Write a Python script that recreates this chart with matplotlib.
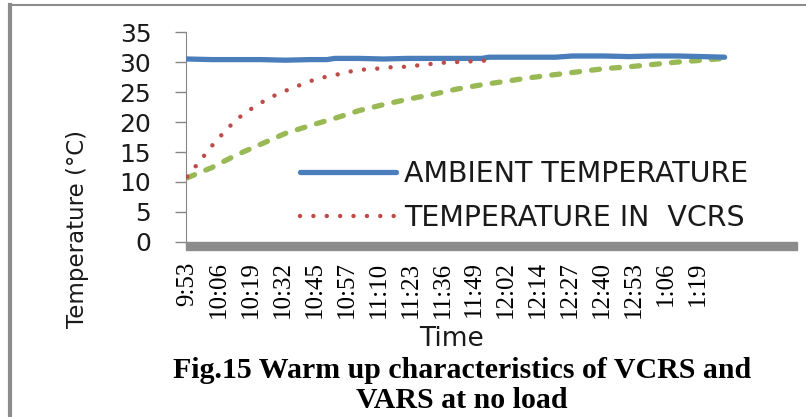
import matplotlib
matplotlib.use('Agg')
import matplotlib.pyplot as plt
from matplotlib.lines import Line2D
from matplotlib.patches import Rectangle

# time labels shown on the category axis (every 13th reading)
tick_labels = ['9:53', '10:06', '10:19', '10:32', '10:45', '10:57', '11:10', '11:23',
               '11:36', '11:49', '12:02', '12:14', '12:27', '12:40', '12:53', '1:06', '1:19']
tick_pos = [0, 13, 26, 39, 52, 65, 78, 91, 104, 117, 130, 143, 156, 169, 182, 195, 208]
n_cat = 249

# ambient temperature (reading index, degC)
amb_idx = [0, 10, 20, 30, 40, 50, 57, 60, 70, 80, 90, 100, 110, 120, 123, 130, 140,
           150, 157, 160, 170, 180, 190, 200, 210, 219]
amb_val = [30.5, 30.4, 30.4, 30.4, 30.3, 30.4, 30.4, 30.6, 30.6, 30.5, 30.6, 30.6, 30.6,
           30.6, 30.8, 30.8, 30.8, 30.8, 31.0, 31.0, 31.0, 30.9, 31.0, 31.0, 30.9, 30.8]

# temperature in VCRS
vcrs_idx = [0, 5, 10, 15, 20, 25, 30, 35, 40, 45, 50, 55, 60, 65, 70, 75, 80, 85, 90,
            95, 100, 105, 110, 115, 120, 124]
vcrs_val = [10.9, 13.4, 16.0, 18.3, 20.4, 21.9, 23.2, 24.3, 25.2, 26.0, 26.8, 27.4, 27.8,
            28.3, 28.7, 28.8, 29.0, 29.2, 29.2, 29.5, 29.7, 29.9, 30.0, 30.1, 30.2, 30.3]

# temperature in VARS
vars_idx = [0, 10, 20, 30, 40, 50, 60, 70, 80, 90, 100, 110, 120, 130, 140, 150, 160,
            170, 180, 190, 200, 210, 219]
vars_val = [10.7, 12.4, 14.5, 16.3, 18.1, 19.4, 20.6, 21.9, 22.9, 23.8, 24.6, 25.5, 26.2,
            26.8, 27.4, 27.9, 28.4, 28.9, 29.2, 29.6, 30.0, 30.3, 30.6]

W, H = 806, 417
fig = plt.figure(figsize=(W / 100, H / 100), dpi=100)
ax = fig.add_axes([186 / W, 1 - 242 / H, 611 / W, 210 / H])

sans = 'DejaVu Sans'
serif = 'Liberation Serif'

l1, = ax.plot(amb_idx, amb_val, color='#4A7EBB', lw=3.8, solid_capstyle='round',
              label='AMBIENT TEMPERATURE', zorder=3)
l2, = ax.plot(vcrs_idx, vcrs_val, color='#BE4B48', lw=3.2, linestyle=(0, (0.01, 3.0)),
              dash_capstyle='round', label='TEMPERATURE IN  VCRS', zorder=4)
l3, = ax.plot(vars_idx, vars_val, color='#98B954', lw=3.8, linestyle=(0, (1.5, 2.3)),
              dash_capstyle='round', label='TEMPERATURE IN VARS', zorder=2)

ax.set_xlim(-0.5, n_cat - 0.5)
ax.set_ylim(0, 35)
ax.set_yticks(range(0, 36, 5))
ax.set_xticks(tick_pos)
ax.set_xticklabels(tick_labels, rotation=90, family=serif, fontsize=18, va='top')
ax.tick_params(axis='x', length=0, pad=14)
ax.tick_params(axis='y', length=8, width=1, color='#868686', pad=17, labelsize=18,
               labelcolor='#1a1a1a')
for t in ax.get_yticklabels():
    t.set_family(sans)

for s in ['top', 'right', 'bottom']:
    ax.spines[s].set_visible(False)
ax.spines['left'].set_color('#868686')

# thick grey category axis bar
ax.add_patch(Rectangle((0, -8.5 / 210), 1, 8.5 / 210, transform=ax.transAxes,
                       color='#8C8C8C', clip_on=False, zorder=5))

ax.set_ylabel('Temperature (°C)', family=sans, fontsize=16.5, color='#1a1a1a')
ax.yaxis.set_label_coords(-0.178, 0.06)
ax.yaxis.label.set_va('center')
ax.set_xlabel('Time', family=sans, fontsize=19, color='#1a1a1a')
ax.xaxis.set_label_coords(0.435, -0.462)
ax.xaxis.label.set_va('center')

ax.legend(handles=[l1, l2], loc='upper left', bbox_to_anchor=(286 / W, 1 - 146 / H),
          bbox_transform=fig.transFigure, frameon=False,
          prop={'family': sans, 'size': 20.5}, labelcolor='#1a1a1a',
          handlelength=3.35, handletextpad=0.3, labelspacing=0.57, borderpad=0)

fig.text(462 / W, 1 - 370 / H, 'Fig.15 Warm up characteristics of VCRS and', family=serif,
         weight='bold', fontsize=21.5, ha='center', va='center')
fig.text(462 / W, 1 - 401 / H, 'VARS at no load', family=serif, weight='bold',
         fontsize=21.5, ha='center', va='center')

# outer frame
fig.add_artist(Line2D([9.5 / W, 1], [1 - 5 / H, 1 - 5 / H], color='#8C8C8C', lw=1.5,
                      transform=fig.transFigure))
fig.add_artist(Line2D([9.5 / W, 9.5 / W], [0, 1 - 5 / H], color='#8C8C8C', lw=3,
                      transform=fig.transFigure))

fig.savefig('out.png', dpi=100)
